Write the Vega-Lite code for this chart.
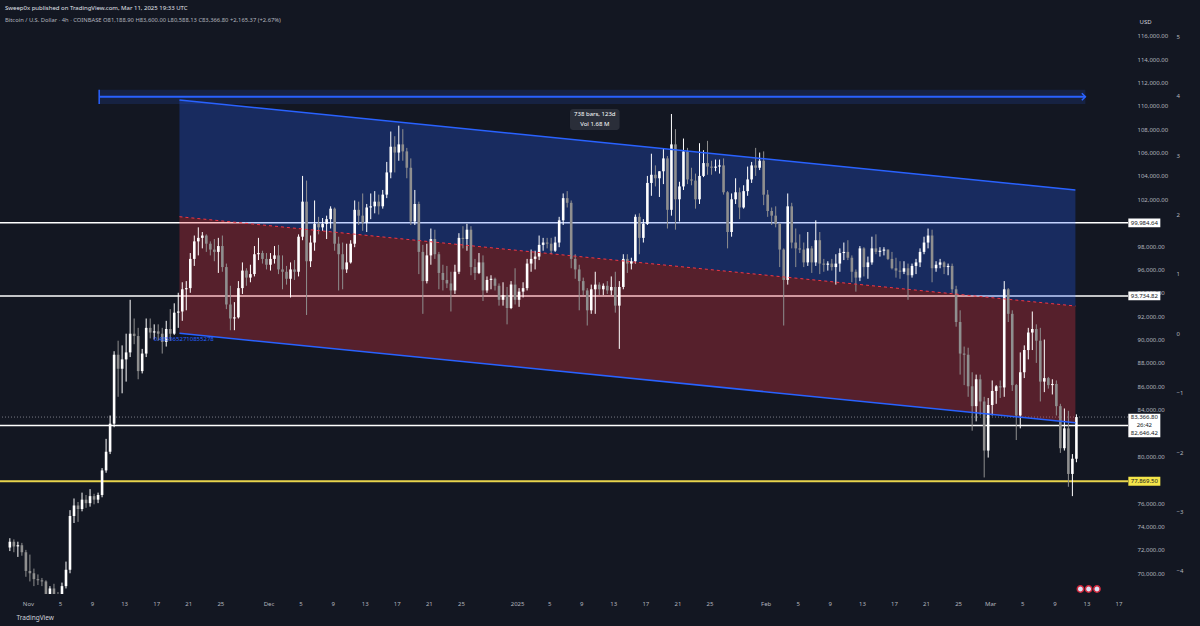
{
"$schema":"https://vega.github.io/schema/vega-lite/v6.json",
"width":1128,"height":567,
"autosize":{"type":"none"},
"padding":{"left":0,"top":27,"right":72,"bottom":32},
"background":"#131722",
"config":{"view":{"stroke":null},"font":"Noto Sans","axis":{"labelOverlap":false,"labelBound":false}},
"title":{"text":"Sweep0x published on TradingView.com, Mar 11, 2025 19:33 UTC","subtitle":"Bitcoin / U.S. Dollar · 4h · COINBASE   O81,188.90  H83,600.00  L80,588.13  C83,366.80  +2,165.37 (+2.67%)","anchor":"start","frame":"group","dx":5,"offset":-5,"fontSize":6,"fontWeight":"normal","color":"#e0e3eb","subtitleFontSize":5.8,"subtitleColor":"#b2b5be","subtitlePadding":6},
"layer":[
{"layer":[
{"data":{"values":[{"p":99984.64},{"p":93734.82},{"p":82646.42}]},"mark":{"type":"rule","color":"#ffffff","strokeWidth":1.5},"encoding":{"y":{"field":"p","type":"quantitative"}}},
{"data":{"values":[{"p":77869.5}]},"mark":{"type":"rule","color":"#e8d44d","strokeWidth":2},"encoding":{"y":{"field":"p","type":"quantitative"}}},
{"data":{"values":[{"p":83366.8}]},"mark":{"type":"rule","color":"#787b86","strokeWidth":1,"strokeDash":[1,2]},"encoding":{"y":{"field":"p","type":"quantitative"}}},
{"data":{"values":[{"t1":"2024-11-09T21:20:00Z","t2":"2025-03-12T20:50:00Z","lo":110156,"hi":111379,"mid":110780}]},
"layer":[
{"mark":{"type":"rect","color":"#2962ff","opacity":0.15},"encoding":{"x":{"field":"t1","type":"temporal"},"x2":{"field":"t2"},"y":{"field":"lo","type":"quantitative"},"y2":{"field":"hi"}}},
{"mark":{"type":"rule","color":"#2962ff","strokeWidth":2},"encoding":{"x":{"field":"t1","type":"temporal"},"x2":{"field":"t2"},"y":{"field":"mid","type":"quantitative"}}},
{"mark":{"type":"rule","color":"#2962ff","strokeWidth":1.5},"encoding":{"x":{"field":"t1","type":"temporal"},"y":{"field":"lo","type":"quantitative"},"y2":{"field":"hi"}}},
{"mark":{"type":"point","shape":"M-1,-1L0,0L-1,1","filled":false,"stroke":"#2962ff","strokeWidth":1.5,"size":50,"opacity":1},"encoding":{"x":{"field":"t2","type":"temporal"},"y":{"field":"mid","type":"quantitative"}}}
]},
{"data":{"values":[{"t":"2024-11-19T21:36:00Z","top":110498,"mid":100512,"bot":90534},{"t":"2025-03-11T15:00:00Z","top":102796,"mid":92870,"bot":82884}]},
"layer":[
{"mark":{"type":"area","color":"#2962ff","opacity":0.28},"encoding":{"x":{"field":"t","type":"temporal"},"y":{"field":"top","type":"quantitative"},"y2":{"field":"mid"}}},
{"mark":{"type":"area","color":"#f23645","opacity":0.3},"encoding":{"x":{"field":"t","type":"temporal"},"y":{"field":"mid","type":"quantitative"},"y2":{"field":"bot"}}}
]},
{"data":{"values":[
{"t":"2024-10-29 18","o":72200,"h":73000,"l":71900,"c":72700},
{"t":"2024-10-30 06","o":72700,"h":72900,"l":71800,"c":72300},
{"t":"2024-10-30 18","o":72300,"h":72700,"l":71400,"c":72400},
{"t":"2024-10-31 06","o":72400,"h":72600,"l":71500,"c":71800},
{"t":"2024-10-31 18","o":71800,"h":72000,"l":69700,"c":70200},
{"t":"2024-11-01 06","o":70200,"h":71600,"l":69300,"c":70000},
{"t":"2024-11-01 18","o":70000,"h":70400,"l":68900,"c":69500},
{"t":"2024-11-02 06","o":69500,"h":69900,"l":69000,"c":69400},
{"t":"2024-11-02 18","o":69400,"h":69600,"l":68900,"c":69300},
{"t":"2024-11-03 06","o":69300,"h":69400,"l":67500,"c":68200},
{"t":"2024-11-03 18","o":68200,"h":68900,"l":67600,"c":68700},
{"t":"2024-11-04 06","o":68700,"h":69100,"l":67800,"c":68000},
{"t":"2024-11-04 18","o":68000,"h":68400,"l":66800,"c":67800},
{"t":"2024-11-05 06","o":67800,"h":69200,"l":67400,"c":68900},
{"t":"2024-11-05 18","o":68900,"h":71000,"l":68700,"c":70300},
{"t":"2024-11-06 06","o":70300,"h":75400,"l":70000,"c":74900},
{"t":"2024-11-06 18","o":74900,"h":76400,"l":74300,"c":75800},
{"t":"2024-11-07 06","o":75800,"h":76100,"l":74400,"c":75500},
{"t":"2024-11-07 18","o":75500,"h":76900,"l":75300,"c":76300},
{"t":"2024-11-08 06","o":76300,"h":76700,"l":75600,"c":76000},
{"t":"2024-11-08 18","o":76000,"h":77200,"l":75700,"c":76600},
{"t":"2024-11-09 06","o":76600,"h":76800,"l":75900,"c":76300},
{"t":"2024-11-09 18","o":76300,"h":76900,"l":76000,"c":76700},
{"t":"2024-11-10 06","o":76700,"h":79000,"l":76500,"c":78800},
{"t":"2024-11-10 18","o":78800,"h":81500,"l":78600,"c":80400},
{"t":"2024-11-11 06","o":80400,"h":83500,"l":80200,"c":82800},
{"t":"2024-11-11 18","o":82800,"h":89000,"l":82500,"c":88700},
{"t":"2024-11-12 06","o":88700,"h":89900,"l":85100,"c":87500},
{"t":"2024-11-12 18","o":87500,"h":89500,"l":85400,"c":88300},
{"t":"2024-11-13 06","o":88300,"h":90500,"l":86400,"c":88900},
{"t":"2024-11-13 18","o":88900,"h":93400,"l":88500,"c":90500},
{"t":"2024-11-14 06","o":90500,"h":91800,"l":89600,"c":90300},
{"t":"2024-11-14 18","o":90300,"h":91000,"l":86600,"c":87300},
{"t":"2024-11-15 06","o":87300,"h":89200,"l":87100,"c":88800},
{"t":"2024-11-15 18","o":88800,"h":91800,"l":88500,"c":91000},
{"t":"2024-11-16 06","o":91000,"h":91800,"l":90100,"c":90600},
{"t":"2024-11-16 18","o":90600,"h":91300,"l":90000,"c":90700},
{"t":"2024-11-17 06","o":90700,"h":91300,"l":89900,"c":90500},
{"t":"2024-11-17 18","o":90500,"h":91000,"l":88800,"c":89800},
{"t":"2024-11-18 06","o":89800,"h":91600,"l":89400,"c":90900},
{"t":"2024-11-18 18","o":90900,"h":92600,"l":89900,"c":90500},
{"t":"2024-11-19 06","o":90500,"h":93100,"l":90400,"c":92300},
{"t":"2024-11-19 18","o":92300,"h":94000,"l":91000,"c":92400},
{"t":"2024-11-20 06","o":92400,"h":94900,"l":91600,"c":94300},
{"t":"2024-11-20 18","o":94300,"h":95000,"l":92500,"c":94400},
{"t":"2024-11-21 06","o":94400,"h":97400,"l":94000,"c":96900},
{"t":"2024-11-21 18","o":96900,"h":98900,"l":96300,"c":98400},
{"t":"2024-11-22 06","o":98400,"h":99600,"l":97200,"c":98700},
{"t":"2024-11-22 18","o":98700,"h":99200,"l":97800,"c":98900},
{"t":"2024-11-23 06","o":98900,"h":99000,"l":97500,"c":98200},
{"t":"2024-11-23 18","o":98200,"h":98400,"l":97200,"c":97700},
{"t":"2024-11-24 06","o":97700,"h":98600,"l":96700,"c":97500},
{"t":"2024-11-24 18","o":97500,"h":98700,"l":95700,"c":98000},
{"t":"2024-11-25 06","o":98000,"h":98900,"l":95800,"c":96200},
{"t":"2024-11-25 18","o":96200,"h":96500,"l":92600,"c":93000},
{"t":"2024-11-26 06","o":93000,"h":94600,"l":90800,"c":91800},
{"t":"2024-11-26 18","o":91800,"h":93200,"l":90800,"c":91900},
{"t":"2024-11-27 06","o":91900,"h":95000,"l":91800,"c":94400},
{"t":"2024-11-27 18","o":94400,"h":96600,"l":93900,"c":95900},
{"t":"2024-11-28 06","o":95900,"h":96100,"l":94600,"c":95300},
{"t":"2024-11-28 18","o":95300,"h":96400,"l":94900,"c":95600},
{"t":"2024-11-29 06","o":95600,"h":98000,"l":95400,"c":97300},
{"t":"2024-11-29 18","o":97300,"h":98700,"l":96800,"c":97400},
{"t":"2024-11-30 06","o":97400,"h":97600,"l":96500,"c":96900},
{"t":"2024-11-30 18","o":96900,"h":97400,"l":96000,"c":96400},
{"t":"2024-12-01 06","o":96400,"h":97400,"l":95900,"c":96900},
{"t":"2024-12-01 18","o":96900,"h":98000,"l":96500,"c":97200},
{"t":"2024-12-02 06","o":97200,"h":98100,"l":95600,"c":96000},
{"t":"2024-12-02 18","o":96000,"h":97200,"l":94300,"c":95800},
{"t":"2024-12-03 06","o":95800,"h":96300,"l":94700,"c":95200},
{"t":"2024-12-03 18","o":95200,"h":96600,"l":93600,"c":96000},
{"t":"2024-12-04 06","o":96000,"h":96800,"l":95100,"c":95800},
{"t":"2024-12-04 18","o":95800,"h":99000,"l":95400,"c":98800},
{"t":"2024-12-05 06","o":98800,"h":104000,"l":98500,"c":101800},
{"t":"2024-12-05 18","o":101800,"h":103600,"l":92100,"c":96700},
{"t":"2024-12-06 06","o":96700,"h":98900,"l":96200,"c":98300},
{"t":"2024-12-06 18","o":98300,"h":101900,"l":97600,"c":99900},
{"t":"2024-12-07 06","o":99900,"h":100500,"l":99000,"c":99600},
{"t":"2024-12-07 18","o":99600,"h":100400,"l":99300,"c":99900},
{"t":"2024-12-08 06","o":99900,"h":100600,"l":98600,"c":100300},
{"t":"2024-12-08 18","o":100300,"h":101400,"l":99500,"c":101200},
{"t":"2024-12-09 06","o":101200,"h":101300,"l":97600,"c":98200},
{"t":"2024-12-09 18","o":98200,"h":98800,"l":94200,"c":97300},
{"t":"2024-12-10 06","o":97300,"h":98300,"l":94300,"c":96000},
{"t":"2024-12-10 18","o":96000,"h":98200,"l":95700,"c":96600},
{"t":"2024-12-11 06","o":96600,"h":98500,"l":96500,"c":98200},
{"t":"2024-12-11 18","o":98200,"h":101900,"l":97900,"c":101100},
{"t":"2024-12-12 06","o":101100,"h":101800,"l":99800,"c":100600},
{"t":"2024-12-12 18","o":100600,"h":102500,"l":99300,"c":100000},
{"t":"2024-12-13 06","o":100000,"h":101600,"l":99200,"c":101300},
{"t":"2024-12-13 18","o":101300,"h":102500,"l":100300,"c":101400},
{"t":"2024-12-14 06","o":101400,"h":102700,"l":100800,"c":101800},
{"t":"2024-12-14 18","o":101800,"h":102400,"l":100700,"c":101400},
{"t":"2024-12-15 06","o":101400,"h":102800,"l":101200,"c":102400},
{"t":"2024-12-15 18","o":102400,"h":105200,"l":102100,"c":104300},
{"t":"2024-12-16 06","o":104300,"h":107800,"l":103800,"c":106500},
{"t":"2024-12-16 18","o":106500,"h":107400,"l":104300,"c":106000},
{"t":"2024-12-17 06","o":106000,"h":108300,"l":105300,"c":106700},
{"t":"2024-12-17 18","o":106700,"h":108000,"l":105300,"c":106100},
{"t":"2024-12-18 06","o":106100,"h":106400,"l":103800,"c":104700},
{"t":"2024-12-18 18","o":104700,"h":105500,"l":99800,"c":100100},
{"t":"2024-12-19 06","o":100100,"h":102800,"l":99800,"c":101600},
{"t":"2024-12-19 18","o":101600,"h":101800,"l":95600,"c":97500},
{"t":"2024-12-20 06","o":97500,"h":98100,"l":92200,"c":95000},
{"t":"2024-12-20 18","o":95000,"h":98200,"l":94800,"c":97200},
{"t":"2024-12-21 06","o":97200,"h":99500,"l":96400,"c":98600},
{"t":"2024-12-21 18","o":98600,"h":99400,"l":96900,"c":97300},
{"t":"2024-12-22 06","o":97300,"h":97500,"l":94300,"c":95700},
{"t":"2024-12-22 18","o":95700,"h":96400,"l":94200,"c":95100},
{"t":"2024-12-23 06","o":95100,"h":96300,"l":94400,"c":94800},
{"t":"2024-12-23 18","o":94800,"h":95800,"l":92400,"c":94200},
{"t":"2024-12-24 06","o":94200,"h":96400,"l":93900,"c":95800},
{"t":"2024-12-24 18","o":95800,"h":99100,"l":95600,"c":98700},
{"t":"2024-12-25 06","o":98700,"h":99700,"l":97800,"c":98600},
{"t":"2024-12-25 18","o":98600,"h":99900,"l":97600,"c":99400},
{"t":"2024-12-26 06","o":99400,"h":99700,"l":95500,"c":96200},
{"t":"2024-12-26 18","o":96200,"h":96900,"l":95100,"c":95700},
{"t":"2024-12-27 06","o":95700,"h":97400,"l":95600,"c":96600},
{"t":"2024-12-27 18","o":96600,"h":97200,"l":93300,"c":94200},
{"t":"2024-12-28 06","o":94200,"h":95400,"l":94000,"c":95100},
{"t":"2024-12-28 18","o":95100,"h":95500,"l":94300,"c":95200},
{"t":"2024-12-29 06","o":95200,"h":95300,"l":94200,"c":94600},
{"t":"2024-12-29 18","o":94600,"h":94800,"l":92900,"c":93400},
{"t":"2024-12-30 06","o":93400,"h":94900,"l":92900,"c":93800},
{"t":"2024-12-30 18","o":93800,"h":94500,"l":91300,"c":92700},
{"t":"2024-12-31 06","o":92700,"h":95000,"l":92600,"c":94700},
{"t":"2024-12-31 18","o":94700,"h":96100,"l":93000,"c":93400},
{"t":"2025-01-01 06","o":93400,"h":94400,"l":92800,"c":94100},
{"t":"2025-01-01 18","o":94100,"h":94900,"l":93600,"c":94400},
{"t":"2025-01-02 06","o":94400,"h":96900,"l":94200,"c":96500},
{"t":"2025-01-02 18","o":96500,"h":97700,"l":95800,"c":96900},
{"t":"2025-01-03 06","o":96900,"h":97600,"l":96000,"c":97100},
{"t":"2025-01-03 18","o":97100,"h":98900,"l":96800,"c":98100},
{"t":"2025-01-04 06","o":98100,"h":98700,"l":97600,"c":98300},
{"t":"2025-01-04 18","o":98300,"h":98700,"l":97800,"c":98200},
{"t":"2025-01-05 06","o":98200,"h":98700,"l":97300,"c":97600},
{"t":"2025-01-05 18","o":97600,"h":98800,"l":97500,"c":98300},
{"t":"2025-01-06 06","o":98300,"h":100500,"l":97900,"c":100200},
{"t":"2025-01-06 18","o":100200,"h":102500,"l":99800,"c":102100},
{"t":"2025-01-07 06","o":102100,"h":102700,"l":101300,"c":101700},
{"t":"2025-01-07 18","o":101700,"h":101900,"l":96100,"c":96900},
{"t":"2025-01-08 06","o":96900,"h":97300,"l":95200,"c":96000},
{"t":"2025-01-08 18","o":96000,"h":96400,"l":92500,"c":95000},
{"t":"2025-01-09 06","o":95000,"h":95300,"l":93800,"c":94200},
{"t":"2025-01-09 18","o":94200,"h":94400,"l":91200,"c":92500},
{"t":"2025-01-10 06","o":92500,"h":94700,"l":92200,"c":94300},
{"t":"2025-01-10 18","o":94300,"h":95800,"l":92200,"c":94700},
{"t":"2025-01-11 06","o":94700,"h":94900,"l":93800,"c":94300},
{"t":"2025-01-11 18","o":94300,"h":94800,"l":93800,"c":94600},
{"t":"2025-01-12 06","o":94600,"h":95000,"l":93900,"c":94200},
{"t":"2025-01-12 18","o":94200,"h":95400,"l":93800,"c":94500},
{"t":"2025-01-13 06","o":94500,"h":95800,"l":92300,"c":92900},
{"t":"2025-01-13 18","o":92900,"h":95000,"l":89200,"c":94500},
{"t":"2025-01-14 06","o":94500,"h":97300,"l":94300,"c":96900},
{"t":"2025-01-14 18","o":96900,"h":97300,"l":95700,"c":96500},
{"t":"2025-01-15 06","o":96500,"h":97000,"l":96000,"c":96700},
{"t":"2025-01-15 18","o":96700,"h":100700,"l":96500,"c":100500},
{"t":"2025-01-16 06","o":100500,"h":100800,"l":97300,"c":98700},
{"t":"2025-01-16 18","o":98700,"h":100300,"l":98300,"c":99900},
{"t":"2025-01-17 06","o":99900,"h":104000,"l":99800,"c":103400},
{"t":"2025-01-17 18","o":103400,"h":105900,"l":102300,"c":104100},
{"t":"2025-01-18 06","o":104100,"h":104900,"l":103100,"c":103800},
{"t":"2025-01-18 18","o":103800,"h":104400,"l":102200,"c":104400},
{"t":"2025-01-19 06","o":104400,"h":106300,"l":103300,"c":105500},
{"t":"2025-01-19 18","o":105500,"h":105700,"l":99500,"c":101100},
{"t":"2025-01-20 06","o":101100,"h":109300,"l":100600,"c":106700},
{"t":"2025-01-20 18","o":106700,"h":108000,"l":99400,"c":102000},
{"t":"2025-01-21 06","o":102000,"h":103500,"l":100100,"c":103100},
{"t":"2025-01-21 18","o":103100,"h":107200,"l":102800,"c":106100},
{"t":"2025-01-22 06","o":106100,"h":106400,"l":103300,"c":103700},
{"t":"2025-01-22 18","o":103700,"h":104700,"l":103200,"c":103600},
{"t":"2025-01-23 06","o":103600,"h":104200,"l":101200,"c":102000},
{"t":"2025-01-23 18","o":102000,"h":106800,"l":101600,"c":104000},
{"t":"2025-01-24 06","o":104000,"h":106200,"l":103900,"c":105100},
{"t":"2025-01-24 18","o":105100,"h":107000,"l":104100,"c":104800},
{"t":"2025-01-25 06","o":104800,"h":105300,"l":104100,"c":104700},
{"t":"2025-01-25 18","o":104700,"h":105400,"l":104400,"c":104800},
{"t":"2025-01-26 06","o":104800,"h":105400,"l":104200,"c":104900},
{"t":"2025-01-26 18","o":104900,"h":105500,"l":102400,"c":102600},
{"t":"2025-01-27 06","o":102600,"h":102700,"l":97800,"c":99200},
{"t":"2025-01-27 18","o":99200,"h":102500,"l":98800,"c":102000},
{"t":"2025-01-28 06","o":102000,"h":103800,"l":101600,"c":102600},
{"t":"2025-01-28 18","o":102600,"h":103000,"l":100300,"c":101300},
{"t":"2025-01-29 06","o":101300,"h":103200,"l":101200,"c":102700},
{"t":"2025-01-29 18","o":102700,"h":104800,"l":102300,"c":103700},
{"t":"2025-01-30 06","o":103700,"h":105200,"l":103400,"c":104900},
{"t":"2025-01-30 18","o":104900,"h":106400,"l":104000,"c":104700},
{"t":"2025-01-31 06","o":104700,"h":106000,"l":104500,"c":105300},
{"t":"2025-01-31 18","o":105300,"h":106100,"l":101500,"c":102400},
{"t":"2025-02-01 06","o":102400,"h":102800,"l":100500,"c":101000},
{"t":"2025-02-01 18","o":101000,"h":101300,"l":99800,"c":100600},
{"t":"2025-02-02 06","o":100600,"h":101400,"l":99600,"c":99900},
{"t":"2025-02-02 18","o":99900,"h":100000,"l":96200,"c":97700},
{"t":"2025-02-03 06","o":97700,"h":97800,"l":91200,"c":95100},
{"t":"2025-02-03 18","o":95100,"h":102500,"l":94700,"c":101400},
{"t":"2025-02-04 06","o":101400,"h":101700,"l":97800,"c":98300},
{"t":"2025-02-04 18","o":98300,"h":99500,"l":96200,"c":97800},
{"t":"2025-02-05 06","o":97800,"h":99000,"l":97400,"c":97700},
{"t":"2025-02-05 18","o":97700,"h":98300,"l":96200,"c":96600},
{"t":"2025-02-06 06","o":96600,"h":99200,"l":96300,"c":97800},
{"t":"2025-02-06 18","o":97800,"h":98000,"l":95700,"c":96600},
{"t":"2025-02-07 06","o":96600,"h":100200,"l":96300,"c":98500},
{"t":"2025-02-07 18","o":98500,"h":99200,"l":95600,"c":96500},
{"t":"2025-02-08 06","o":96500,"h":96900,"l":95800,"c":96400},
{"t":"2025-02-08 18","o":96400,"h":96700,"l":95900,"c":96500},
{"t":"2025-02-09 06","o":96500,"h":96900,"l":95900,"c":96200},
{"t":"2025-02-09 18","o":96200,"h":97300,"l":94700,"c":96500},
{"t":"2025-02-10 06","o":96500,"h":97800,"l":95800,"c":97400},
{"t":"2025-02-10 18","o":97400,"h":98300,"l":96800,"c":97500},
{"t":"2025-02-11 06","o":97500,"h":98500,"l":96800,"c":97000},
{"t":"2025-02-11 18","o":97000,"h":97200,"l":94900,"c":95800},
{"t":"2025-02-12 06","o":95800,"h":96000,"l":94100,"c":95300},
{"t":"2025-02-12 18","o":95300,"h":98000,"l":95000,"c":97800},
{"t":"2025-02-13 06","o":97800,"h":97900,"l":95400,"c":96200},
{"t":"2025-02-13 18","o":96200,"h":97100,"l":95200,"c":96600},
{"t":"2025-02-14 06","o":96600,"h":98800,"l":96400,"c":97800},
{"t":"2025-02-14 18","o":97800,"h":99000,"l":97300,"c":97500},
{"t":"2025-02-15 06","o":97500,"h":97900,"l":97100,"c":97600},
{"t":"2025-02-15 18","o":97600,"h":97900,"l":97200,"c":97700},
{"t":"2025-02-16 06","o":97700,"h":97700,"l":96800,"c":96900},
{"t":"2025-02-16 18","o":96900,"h":97500,"l":96000,"c":96100},
{"t":"2025-02-17 06","o":96100,"h":97000,"l":95300,"c":95900},
{"t":"2025-02-17 18","o":95900,"h":96700,"l":95200,"c":95800},
{"t":"2025-02-18 06","o":95800,"h":96700,"l":95600,"c":96100},
{"t":"2025-02-18 18","o":96100,"h":96500,"l":93400,"c":95500},
{"t":"2025-02-19 06","o":95500,"h":96500,"l":95300,"c":96300},
{"t":"2025-02-19 18","o":96300,"h":96900,"l":95600,"c":96600},
{"t":"2025-02-20 06","o":96600,"h":97800,"l":96200,"c":97500},
{"t":"2025-02-20 18","o":97500,"h":98800,"l":97300,"c":98300},
{"t":"2025-02-21 06","o":98300,"h":99500,"l":97800,"c":98900},
{"t":"2025-02-21 18","o":98900,"h":99400,"l":94900,"c":96100},
{"t":"2025-02-22 06","o":96100,"h":96700,"l":95800,"c":96400},
{"t":"2025-02-22 18","o":96400,"h":96900,"l":96100,"c":96600},
{"t":"2025-02-23 06","o":96600,"h":96700,"l":95600,"c":96200},
{"t":"2025-02-23 18","o":96200,"h":96500,"l":95500,"c":96300},
{"t":"2025-02-24 06","o":96300,"h":96500,"l":94000,"c":94300},
{"t":"2025-02-24 18","o":94300,"h":94600,"l":91100,"c":91500},
{"t":"2025-02-25 06","o":91500,"h":92500,"l":87000,"c":88800},
{"t":"2025-02-25 18","o":88800,"h":89400,"l":86100,"c":88700},
{"t":"2025-02-26 06","o":88700,"h":89300,"l":85100,"c":86000},
{"t":"2025-02-26 18","o":86000,"h":87200,"l":82200,"c":84300},
{"t":"2025-02-27 06","o":84300,"h":87000,"l":83000,"c":86600},
{"t":"2025-02-27 18","o":86600,"h":87000,"l":83500,"c":84700},
{"t":"2025-02-28 06","o":84700,"h":85100,"l":78200,"c":80500},
{"t":"2025-02-28 18","o":80500,"h":85000,"l":79900,"c":84400},
{"t":"2025-03-01 06","o":84400,"h":86500,"l":83500,"c":85600},
{"t":"2025-03-01 18","o":85600,"h":86100,"l":84500,"c":86000},
{"t":"2025-03-02 06","o":86000,"h":86500,"l":85000,"c":85900},
{"t":"2025-03-02 18","o":85900,"h":95000,"l":85100,"c":94300},
{"t":"2025-03-03 06","o":94300,"h":94400,"l":91500,"c":92200},
{"t":"2025-03-03 18","o":92200,"h":92500,"l":85600,"c":86100},
{"t":"2025-03-04 06","o":86100,"h":86200,"l":81400,"c":83500},
{"t":"2025-03-04 18","o":83500,"h":88900,"l":82400,"c":87200},
{"t":"2025-03-05 06","o":87200,"h":89500,"l":86700,"c":89100},
{"t":"2025-03-05 18","o":89100,"h":91000,"l":88300,"c":90600},
{"t":"2025-03-06 06","o":90600,"h":92400,"l":89100,"c":90900},
{"t":"2025-03-06 18","o":90900,"h":91300,"l":88000,"c":89900},
{"t":"2025-03-07 06","o":89900,"h":91000,"l":84700,"c":86400},
{"t":"2025-03-07 18","o":86400,"h":90000,"l":85500,"c":86700},
{"t":"2025-03-08 06","o":86700,"h":86800,"l":85800,"c":86100},
{"t":"2025-03-08 18","o":86100,"h":86600,"l":85300,"c":86200},
{"t":"2025-03-09 06","o":86200,"h":86500,"l":83500,"c":84300},
{"t":"2025-03-09 18","o":84300,"h":84500,"l":80300,"c":80700},
{"t":"2025-03-10 06","o":80700,"h":84100,"l":80500,"c":82400},
{"t":"2025-03-10 18","o":82400,"h":83900,"l":77400,"c":78500},
{"t":"2025-03-11 06","o":78500,"h":80200,"l":76600,"c":79800},
{"t":"2025-03-11 18","o":79800,"h":83600,"l":79500,"c":83367}
],"format":{"parse":{"t":"utc:'%Y-%m-%d %H'"}}},
"layer":[
{"mark":{"type":"rule","strokeWidth":1,"clip":true},
"encoding":{
"x":{"field":"t","type":"temporal","scale":{"type":"utc","domain":[{"year":2024,"month":10,"date":29,"hours":3,"minutes":28,"utc":true},{"year":2025,"month":3,"date":17,"hours":13,"minutes":26,"utc":true}]},
"axis":{"orient":"bottom","tickCount":{"interval":"day","step":4},"labelExpr":"utcdate(datum.value)==29 ? '' : utcdate(datum.value)==1 ? (utcmonth(datum.value)==0 ? utcFormat(datum.value,'%Y') : utcFormat(datum.value,'%b')) : utcFormat(datum.value,'%-d')","ticks":false,"tickSize":0,"domain":false,"grid":false,"labelPadding":9,"labelBaseline":"middle","labelColor":"#b2b5be","labelFontSize":6,"labelFlush":false,"labelOverlap":false,"title":"TradingView","titleAnchor":"start","titleAlign":"left","titleX":16,"titleY":23,"titleBaseline":"middle","titleColor":"#d1d4dc","titleFontSize":6.5,"titleFontWeight":"normal"}},
"y":{"field":"l","type":"quantitative","scale":{"domain":[68226,116744],"nice":false,"zero":false},
"axis":{"orient":"right","values":[70000,72000,74000,76000,80000,84000,86000,88000,90000,92000,94000,96000,98000,102000,104000,106000,108000,110000,112000,114000,116000],"tickCount":60,"format":",.2f","labelAlign":"left","labelPadding":9,"labelBaseline":"middle","ticks":false,"tickSize":0,"domain":false,"grid":false,"labelColor":"#b2b5be","labelFontSize":6,"labelOverlap":false,"title":"USD","titleAngle":0,"titleX":11,"titleY":-6,"titleAlign":"left","titleBaseline":"middle","titleColor":"#d1d4dc","titleFontSize":6,"titleFontWeight":"normal"}},
"y2":{"field":"h"},
"color":{"condition":{"test":"datum.c >= datum.o","value":"#ffffff"},"value":"#8f8f8f"}}},
{"mark":{"type":"bar","size":2.6,"clip":true},
"encoding":{"x":{"field":"t","type":"temporal"},"y":{"field":"o","type":"quantitative"},"y2":{"field":"c"},
"color":{"condition":{"test":"datum.c >= datum.o","value":"#ffffff"},"value":"#8f8f8f"}}}
]},
{"data":{"values":[{"t":"2024-11-19T21:36:00Z","top":110498,"mid":100512,"bot":90534},{"t":"2025-03-11T15:00:00Z","top":102796,"mid":92870,"bot":82884}]},
"layer":[
{"mark":{"type":"line","color":"#2962ff","strokeWidth":1.5},"encoding":{"x":{"field":"t","type":"temporal"},"y":{"field":"top","type":"quantitative"}}},
{"mark":{"type":"line","color":"#2962ff","strokeWidth":1.5},"encoding":{"x":{"field":"t","type":"temporal"},"y":{"field":"bot","type":"quantitative"}}},
{"mark":{"type":"line","color":"#f23645","strokeWidth":1,"strokeDash":[3,3]},"encoding":{"x":{"field":"t","type":"temporal"},"y":{"field":"mid","type":"quantitative"}}}
]},
{"data":{"values":[{"t":"2024-11-16T16:50:00Z","p":90047,"txt":"0.4855652710855278"}]},
"mark":{"type":"text","align":"left","baseline":"middle","fontSize":6,"color":"#2962ff"},
"encoding":{"x":{"field":"t","type":"temporal"},"y":{"field":"p","type":"quantitative"},"text":{"field":"txt"}}},
{"data":{"values":[{"t1":"2025-01-07T14:24:00Z","t2":"2025-01-13T18:43:00Z","p1":109728,"p2":107931}]},
"mark":{"type":"rect","color":"#2a2e39","cornerRadius":3},
"encoding":{"x":{"field":"t1","type":"temporal"},"x2":{"field":"t2"},"y":{"field":"p1","type":"quantitative"},"y2":{"field":"p2"}}},
{"data":{"values":[{"t":"2025-01-10T16:35:00Z","p":109300,"txt":"738 bars, 123d"},{"t":"2025-01-10T16:35:00Z","p":108444,"txt":"Vol 1.68 M"}]},
"mark":{"type":"text","align":"center","baseline":"middle","fontSize":6,"color":"#ffffff"},
"encoding":{"x":{"field":"t","type":"temporal"},"y":{"field":"p","type":"quantitative"},"text":{"field":"txt"}}},
{"data":{"values":[{"p":99984.64,"txt":"99,984.64"},{"p":93734.82,"txt":"93,734.82"}]},
"layer":[
{"mark":{"type":"point","shape":"M-1,-0.28H1V0.28H-1Z","filled":true,"color":"#ffffff","opacity":1,"size":1024},"encoding":{"x":{"datum":{"year":2025,"month":3,"date":20,"hours":5,"minutes":17,"utc":true},"type":"temporal"},"y":{"field":"p","type":"quantitative"}}},
{"mark":{"type":"text","align":"center","baseline":"middle","fontSize":6,"color":"#131722"},"encoding":{"x":{"datum":{"year":2025,"month":3,"date":20,"hours":5,"minutes":17,"utc":true},"type":"temporal"},"y":{"field":"p","type":"quantitative"},"text":{"field":"txt"}}}
]},
{"data":{"values":[{"p":77869.5,"txt":"77,869.50"}]},
"layer":[
{"mark":{"type":"point","shape":"M-1,-0.28H1V0.28H-1Z","filled":true,"color":"#f5e64a","opacity":1,"size":1024},"encoding":{"x":{"datum":{"year":2025,"month":3,"date":20,"hours":5,"minutes":17,"utc":true},"type":"temporal"},"y":{"field":"p","type":"quantitative"}}},
{"mark":{"type":"text","align":"center","baseline":"middle","fontSize":6,"color":"#131722"},"encoding":{"x":{"datum":{"year":2025,"month":3,"date":20,"hours":5,"minutes":17,"utc":true},"type":"temporal"},"y":{"field":"p","type":"quantitative"},"text":{"field":"txt"}}}
]},
{"data":{"values":[{"p":82646.42}]},
"mark":{"type":"point","shape":"M-1,-0.73H1V0.73H-1Z","filled":true,"color":"#ffffff","opacity":1,"size":1024},"encoding":{"x":{"datum":{"year":2025,"month":3,"date":20,"hours":5,"minutes":17,"utc":true},"type":"temporal"},"y":{"field":"p","type":"quantitative"}}},
{"data":{"values":[{"p":83366.8,"txt":"83,366.80"}]},
"layer":[
{"mark":{"type":"text","align":"center","baseline":"middle","fontSize":6,"color":"#131722"},"encoding":{"x":{"datum":{"year":2025,"month":3,"date":20,"hours":5,"minutes":17,"utc":true},"type":"temporal"},"y":{"field":"p","type":"quantitative"},"text":{"field":"txt"}}},
{"mark":{"type":"text","align":"center","baseline":"middle","fontSize":6,"color":"#131722","dy":7.5,"text":"26:42"},"encoding":{"x":{"datum":{"year":2025,"month":3,"date":20,"hours":5,"minutes":17,"utc":true},"type":"temporal"},"y":{"field":"p","type":"quantitative"}}}
]},
{"data":{"values":[{"p":82646.42,"txt":"82,646.42"}]},
"mark":{"type":"text","align":"center","baseline":"middle","fontSize":6,"color":"#131722","dy":7.2},"encoding":{"x":{"datum":{"year":2025,"month":3,"date":20,"hours":5,"minutes":17,"utc":true},"type":"temporal"},"y":{"field":"p","type":"quantitative"},"text":{"field":"txt"}}},
{"data":{"values":[{"t":"2025-03-12T06:00:00Z","p":68654},{"t":"2025-03-13T06:30:00Z","p":68654},{"t":"2025-03-14T07:30:00Z","p":68654}]},
"mark":{"type":"point","shape":"circle","filled":true,"fill":"#dbe3f5","stroke":"#d0283c","strokeWidth":1.5,"size":40,"opacity":1},
"encoding":{"x":{"field":"t","type":"temporal"},"y":{"field":"p","type":"quantitative"}}}
]},
{"data":{"values":[{"v":-4},{"v":-3},{"v":-2},{"v":-1},{"v":0},{"v":1},{"v":2},{"v":3},{"v":4},{"v":5}]},
"mark":{"type":"rule","opacity":0},
"encoding":{"y":{"field":"v","type":"quantitative","scale":{"domain":[-4.389,5.157],"nice":false,"zero":false},
"axis":{"orient":"right","offset":40,"values":[-4,-3,-2,-1,0,1,2,3,4,5],"tickCount":30,"format":"d","labelAlign":"left","labelPadding":8,"labelBaseline":"middle","ticks":false,"tickSize":0,"domain":false,"grid":false,"labelColor":"#b2b5be","labelFontSize":6,"labelOverlap":false,"title":null}}}}
],
"resolve":{"scale":{"y":"independent"}}
}
